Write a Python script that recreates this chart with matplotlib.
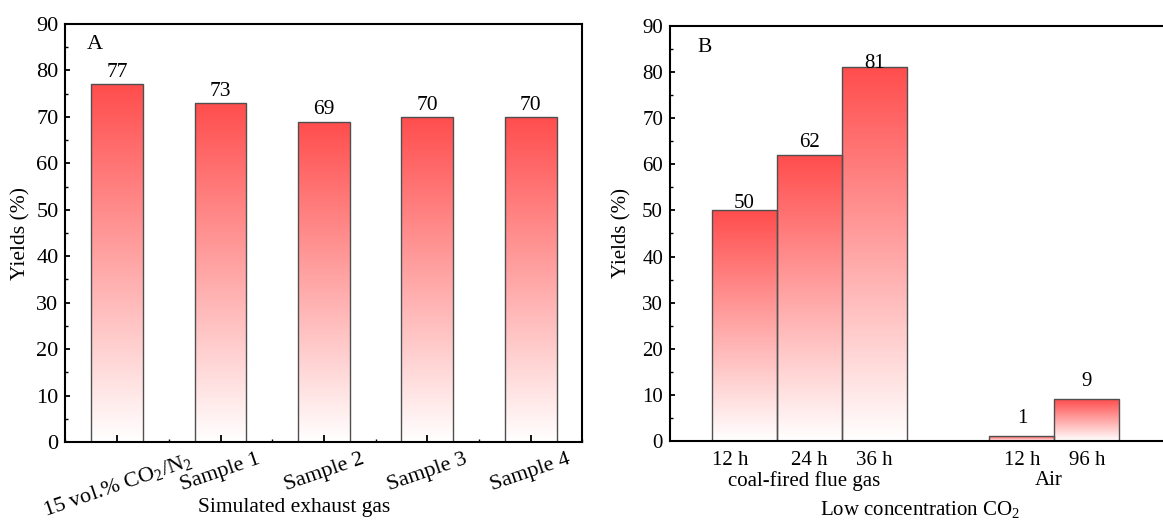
import numpy as np
import matplotlib
matplotlib.use("Agg")
import matplotlib.pyplot as plt
from matplotlib.ticker import MultipleLocator
from matplotlib.transforms import ScaledTranslation

plt.rcParams["font.family"] = ["Liberation Serif", "DejaVu Serif"]
plt.rcParams["mathtext.fontset"] = "custom"
plt.rcParams["mathtext.rm"] = "Liberation Serif"
plt.rcParams["mathtext.it"] = "Liberation Serif:italic"

# ---- Panel A: simulated exhaust gas ----
a_categories = ["15 vol.% CO$_\\mathregular{2}$/N$_\\mathregular{2}$",
                "Sample 1", "Sample 2", "Sample 3", "Sample 4"]
a_yields = [77, 73, 69, 70, 70]

# ---- Panel B: low-concentration CO2 ----
b_groups = ["coal-fired flue gas", "Air"]
b_times = [["12 h", "24 h", "36 h"], ["12 h", "96 h"]]
b_yields = [[50, 62, 81], [1, 9]]

TOP_RED = np.array([255, 77, 77]) / 255.0
EDGE = "#4f4f4f"


def gradient_bars(ax, bars):
    """Fill every bar with a vertical red-to-white gradient."""
    n = 256
    t = np.linspace(0, 1, n)[:, None]
    rgb = (1 - t) * np.ones(3) + t * TOP_RED          # (n, 3)
    img = rgb[:, None, :].repeat(2, axis=1)           # (n, 2, 3)
    for b in bars:
        x0, y0 = b.get_x(), b.get_y()
        w, h = b.get_width(), b.get_height()
        im = ax.imshow(img, extent=[x0, x0 + w, y0, y0 + h], origin="lower",
                       aspect="auto", interpolation="bilinear", zorder=1)
        im.set_clip_path(b)


def style_axis(ax):
    for s in ax.spines.values():
        s.set_linewidth(1.5)
    ax.set_ylim(0, 90)
    ax.yaxis.set_major_locator(MultipleLocator(10))
    ax.yaxis.set_minor_locator(MultipleLocator(5))
    ax.tick_params(axis="y", which="major", direction="in", length=3.8, width=1.3, pad=5)
    ax.tick_params(axis="y", which="minor", direction="in", length=2.3, width=1.0)


fig = plt.figure(figsize=(11.63, 5.21), dpi=100)

# Panel A
axA = fig.add_axes([0.0563, 0.1516, 0.4445, 0.8023])
xa = np.arange(1, len(a_yields) + 1)
barsA = axA.bar(xa, a_yields, width=0.5, facecolor="none", edgecolor=EDGE,
                linewidth=1.0, zorder=2)
gradient_bars(axA, barsA)
axA.set_xlim(0.5, 5.5)
style_axis(axA)
axA.tick_params(axis="y", which="major", labelsize=16)
axA.set_xticks(xa)
axA.set_xticklabels(a_categories, rotation=19, ha="center", fontsize=16)
axA.xaxis.set_minor_locator(MultipleLocator(0.5))
axA.tick_params(axis="x", which="major", direction="in", length=5, width=1.3, pad=6)
axA.tick_params(axis="x", which="minor", direction="in", length=2.3, width=1.0)
for b, v in zip(barsA, a_yields):
    axA.annotate(f"{v}", (b.get_x() + b.get_width() / 2, v), xytext=(0, 1.5),
                 textcoords="offset points", ha="center", va="bottom", fontsize=15.5)
axA.set_ylabel("Yields (%)", fontsize=15.5)
axA.yaxis.set_label_coords(-0.086, 0.5)
axA.yaxis.label.set_verticalalignment("center")
axA.set_xlabel("Simulated exhaust gas", fontsize=15.5)
axA.xaxis.set_label_coords(0.442, -0.157)
axA.xaxis.label.set_verticalalignment("center")
axA.text(0.042, 0.95, "A", transform=axA.transAxes, fontsize=16,
         ha="left", va="center")

# Panel B
axB = fig.add_axes([0.5761, 0.1536, 0.4256, 0.7965])
group_gap = 1.27
xb, labels_b, vals_b, centers = [], [], [], []
pos = 1.0
for times, vals in zip(b_times, b_yields):
    xs = [pos + i for i in range(len(vals))]
    xb.extend(xs)
    labels_b.extend(times)
    vals_b.extend(vals)
    centers.append(np.mean(xs))
    pos = xs[-1] + 1 + group_gap
barsB = axB.bar(xb, vals_b, width=1.0, facecolor="none", edgecolor=EDGE,
                linewidth=1.0, zorder=2)
gradient_bars(axB, barsB)
axB.set_xlim(-0.14, 7.47)
style_axis(axB)
axB.tick_params(axis="y", which="major", labelsize=15)
axB.set_xticks(xb)
axB.set_xticklabels(labels_b, fontsize=15)
axB.tick_params(axis="x", which="both", length=0, pad=7)
# the first time label sits a little left of its bar
first = axB.get_xticklabels()[0]
first.set_transform(first.get_transform()
                    + ScaledTranslation(-0.14, 0, fig.dpi_scale_trans))
label_offsets_b = [-2, 2, -4, 6, 6]
for b, v, off in zip(barsB, vals_b, label_offsets_b):
    axB.annotate(f"{v}", (b.get_x() + b.get_width() / 2, v), xytext=(0, off),
                 textcoords="offset points", ha="center", va="bottom", fontsize=15)
for c, g in zip(centers, b_groups):
    axB.text(c - 0.08, -0.096, g, transform=axB.get_xaxis_transform(),
             ha="center", va="center", fontsize=15)
axB.set_ylabel("Yields (%)", fontsize=15)
axB.yaxis.set_label_coords(-0.097, 0.5)
axB.yaxis.label.set_verticalalignment("center")
axB.set_xlabel("Low concentration CO$_\\mathregular{2}$", fontsize=15)
axB.xaxis.set_label_coords(0.505, -0.166)
axB.xaxis.label.set_verticalalignment("center")
axB.text(0.056, 0.947, "B", transform=axB.transAxes, fontsize=15.5,
         ha="left", va="center")

fig.savefig("out.png", dpi=100)
